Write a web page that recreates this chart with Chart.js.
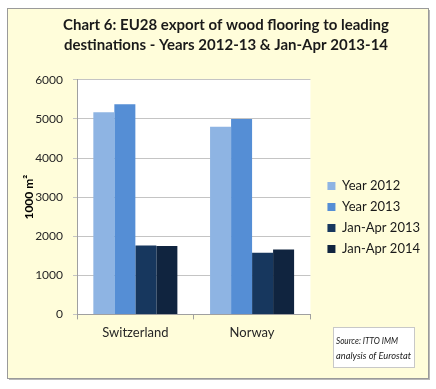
<!DOCTYPE html>
<html>
<head>
<meta charset="utf-8">
<script src="https://cdn.jsdelivr.net/npm/chart.js@4.4.1/dist/chart.umd.min.js"></script>
<style>
  html, body { margin: 0; padding: 0; background: #ffffff; }
  #wrap { position: relative; width: 436px; height: 389px; }
</style>
</head>
<body>
<div id="wrap"><canvas id="c" width="436" height="389"></canvas></div>
<script>
const categories = ['Switzerland', 'Norway'];
const seriesNames = ['Year 2012', 'Year 2013', 'Jan-Apr 2013', 'Jan-Apr 2014'];
const year2012 = [5170, 4800];
const year2013 = [5380, 5000];
const janApr2013 = [1760, 1580];
const janApr2014 = [1750, 1660];
const yTicks = [0, 1000, 2000, 3000, 4000, 5000, 6000];
const titleLines = ['Chart 6: EU28 export of wood flooring to leading', 'destinations - Years 2012-13 & Jan-Apr 2013-14'];
const yTitle = '1000 m\u00B2';
const sourceLines = ['Source: ITTO IMM', 'analysis of Eurostat'];

const colors = ['#8EB4E3', '#558ED5', '#17375E', '#10243F'];
const seriesValues = [year2012, year2013, janApr2013, janApr2014];

const framePlugin = {
  id: 'frame',
  beforeDraw(chart) {
    const ctx = chart.ctx;
    ctx.save();
    ctx.fillStyle = '#ffffff';
    ctx.fillRect(0, 0, chart.width, chart.height);
    ctx.fillStyle = '#b8b8b8';
    ctx.fillRect(9, 10, 421, 370);
    ctx.fillStyle = '#FFFDDA';
    ctx.fillRect(7, 8, 421, 370);
    ctx.strokeStyle = '#9a9a9a';
    ctx.lineWidth = 1;
    ctx.strokeRect(7.5, 8.5, 421, 370);
    const a = chart.chartArea;
    ctx.fillStyle = '#ffffff';
    ctx.fillRect(a.left, a.top, a.right - a.left, a.bottom - a.top);
    ctx.restore();
  },
  afterDraw(chart) {
    const ctx = chart.ctx;
    ctx.save();
    ctx.fillStyle = '#ffffff';
    ctx.fillRect(333, 327, 81, 40);
    ctx.strokeStyle = '#c8c8c8';
    ctx.lineWidth = 1;
    ctx.strokeRect(333.5, 327.5, 81, 40);
    ctx.fillStyle = '#1a1a1a';
    ctx.font = 'italic 10px Lato';
    ctx.textBaseline = 'middle';
    ctx.textAlign = 'left';
    ctx.fillText(sourceLines[0], 336, 341, 62);
    ctx.fillText(sourceLines[1], 336, 356, 75);
    ctx.restore();
  }
};

new Chart(document.getElementById('c'), {
  type: 'bar',
  data: {
    labels: categories,
    datasets: seriesNames.map((n, i) => ({
      label: n,
      data: seriesValues[i],
      backgroundColor: colors[i],
      borderWidth: 0,
      categoryPercentage: 0.72,
      barPercentage: 1.0
    }))
  },
  plugins: [framePlugin],
  options: {
    responsive: false,
    animation: false,
    devicePixelRatio: 1,
    layout: { padding: { left: 22, right: 6, top: 8, bottom: 42 } },
    plugins: {
      title: {
        display: true,
        text: titleLines,
        color: '#1a1a1a',
        font: { family: 'Lato', size: 15, weight: 'bold', lineHeight: 1.33 },
        padding: { top: 7, bottom: 25 }
      },
      legend: {
        position: 'right',
        align: 'center',
        maxWidth: 200,
        title: { display: true, text: ' ', font: { size: 1 }, padding: { top: 79, bottom: 0 } },
        labels: {
          color: '#1a1a1a',
          font: { family: 'Lato', size: 13 },
          boxWidth: 8,
          boxHeight: 8,
          padding: 8
        }
      },
      tooltip: { enabled: false }
    },
    scales: {
      x: {
        grid: { display: true, drawOnChartArea: false, color: '#a0a0a0', tickLength: 5 },
        border: { color: '#a0a0a0' },
        ticks: { color: '#262626', font: { family: 'Lato', size: 13 }, padding: 6 }
      },
      y: {
        min: 0,
        max: 6000,
        afterBuildTicks(axis) { axis.ticks = yTicks.map(v => ({ value: v })); },
        afterFit(axis) { axis.width = 55; },
        grid: { color: '#c4c4c4', tickLength: 4 },
        border: { color: '#a0a0a0' },
        ticks: { color: '#262626', font: { family: 'Lato', size: 12 }, padding: 10, callback: v => String(v) },
        title: { display: true, text: yTitle, color: '#000000', font: { family: 'Lato', size: 12, weight: 'bold' }, padding: { top: 0, bottom: 3 } }
      },
      yR: {
        position: 'right',
        display: true,
        afterFit(axis) { axis.width = 9; },
        grid: { display: false },
        border: { display: false },
        ticks: { display: false }
      }
    }
  }
});
</script>
</body>
</html>
